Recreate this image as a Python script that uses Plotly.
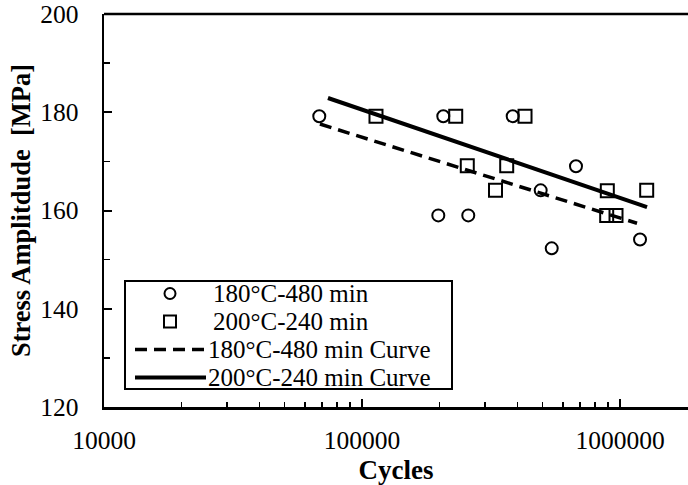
import plotly.graph_objects as go

# ---------------- data ----------------
name_180 = "180°C-480 min"
name_200 = "200°C-240 min"
name_180c = "180°C-480 min Curve"
name_200c = "200°C-240 min Curve"

cycles_180 = [68300, 206600, 383800, 197600, 258200, 492700, 675200, 543700, 1195600]
stress_180 = [179.2, 179.2, 179.2, 159.0, 159.0, 164.1, 169.0, 152.3, 154.1]

cycles_200 = [113300, 230800, 428400, 255900, 363800, 329200, 892900, 1269000, 888000, 965000]
stress_200 = [179.2, 179.2, 179.2, 169.1, 169.1, 164.1, 164.0, 164.1, 159.0, 159.0]

curve_180_x = [68700, 1164000]
curve_180_y = [177.6, 157.4]
curve_200_x = [73800, 1273000]
curve_200_y = [182.9, 160.7]

x_tickvals = [10000, 100000, 1000000]
x_ticktext = ["10000", "100000", "1000000"]
y_tickvals = [120, 140, 160, 180, 200]

# ---------------- style ----------------
FONT = "Liberation Serif"
BLACK = "#000000"
DASH = "12px,7px"

fig = go.Figure()
fig.add_trace(go.Scatter(x=curve_180_x, y=curve_180_y, mode="lines", name=name_180c,
                         line=dict(color=BLACK, width=3.5, dash=DASH), showlegend=False))
fig.add_trace(go.Scatter(x=curve_200_x, y=curve_200_y, mode="lines", name=name_200c,
                         line=dict(color=BLACK, width=4), showlegend=False))
fig.add_trace(go.Scatter(x=cycles_180, y=stress_180, mode="markers", name=name_180,
                         marker=dict(symbol="circle-open", size=12, color=BLACK,
                                     line=dict(width=2, color=BLACK)), showlegend=False))
fig.add_trace(go.Scatter(x=cycles_200, y=stress_200, mode="markers", name=name_200,
                         marker=dict(symbol="square-open", size=13, color=BLACK,
                                     line=dict(width=2, color=BLACK)), showlegend=False))

# ---------------- geometry (body margin removed by post_script) ----------------
W, H = 688, 485
L, R, T, B = 104, 0, 14, 78
pw, ph = W - L - R, H - T - B


def fx(px):
    return (px - L) / pw


def fy(py):
    return (H - B - py) / ph


# manual legend (window pixels)
bx0, bx1, by0, by1 = 125, 452, 281, 389
rows = [293.5, 321.5, 349.5, 377.5]
sym_x = 170
line_x0, line_x1 = 135, 206
text_x = [211, 211, 206, 206]

shapes = [
    dict(type="rect", xref="paper", yref="paper", x0=fx(bx0), x1=fx(bx1), y0=fy(by1), y1=fy(by0),
         line=dict(color=BLACK, width=2), fillcolor="white"),
    dict(type="circle", xref="paper", yref="paper",
         x0=fx(sym_x - 5.5), x1=fx(sym_x + 5.5), y0=fy(rows[0] + 5.5), y1=fy(rows[0] - 5.5),
         line=dict(color=BLACK, width=2)),
    dict(type="rect", xref="paper", yref="paper",
         x0=fx(sym_x - 6), x1=fx(sym_x + 6), y0=fy(rows[1] + 6), y1=fy(rows[1] - 6),
         line=dict(color=BLACK, width=2)),
    dict(type="line", xref="paper", yref="paper",
         x0=fx(line_x0), x1=fx(line_x1), y0=fy(rows[2]), y1=fy(rows[2]),
         line=dict(color=BLACK, width=3.5, dash=DASH)),
    dict(type="line", xref="paper", yref="paper",
         x0=fx(line_x0), x1=fx(line_x1), y0=fy(rows[3]), y1=fy(rows[3]),
         line=dict(color=BLACK, width=4)),
    # top border of the plot area
    dict(type="line", xref="paper", yref="paper", x0=0, x1=1, y0=1, y1=1,
         line=dict(color=BLACK, width=2.5)),
]

legend_names = [name_180, name_200, name_180c, name_200c]
annotations = []
for nm, tx, ry in zip(legend_names, text_x, rows):
    annotations.append(dict(x=fx(tx), y=fy(ry), xref="paper", yref="paper", text=nm,
                            showarrow=False, xanchor="left", yanchor="middle",
                            font=dict(family=FONT, size=25, color=BLACK)))

fig.update_layout(
    width=W, height=H,
    margin=dict(l=L, r=R, t=T, b=B, pad=0, autoexpand=False),
    paper_bgcolor="white", plot_bgcolor="white",
    font=dict(family=FONT, color=BLACK),
    showlegend=False, hovermode=False,
    xaxis=dict(type="log", range=[4, 4 + pw / 258.0],
               tickvals=x_tickvals, ticktext=x_ticktext,
               ticks="inside", ticklen=8, tickwidth=2, tickcolor=BLACK,
               minor=dict(ticks="inside", ticklen=5, tickwidth=1.5, tickcolor=BLACK, dtick="D1", showgrid=False),
               showline=True, linewidth=2.5, linecolor=BLACK, mirror=False,
               showgrid=False, zeroline=False, automargin=False,
               tickfont=dict(family=FONT, size=25.5, color=BLACK),
               ticklabelstandoff=9, ticklabeloverflow="allow",
               title=dict(text="<b>Cycles</b>", font=dict(family=FONT, size=27, color=BLACK), standoff=1)),
    yaxis=dict(range=[120, 200], tickvals=y_tickvals,
               ticks="inside", ticklen=8, tickwidth=2, tickcolor=BLACK,
               minor=dict(ticks="inside", ticklen=6, tickwidth=1.5, tickcolor=BLACK, dtick=10, showgrid=False),
               showline=True, linewidth=2.5, linecolor=BLACK, mirror=False,
               showgrid=False, zeroline=False, automargin=False,
               tickfont=dict(family=FONT, size=25.5, color=BLACK),
               ticklabelstandoff=18, ticklabeloverflow="allow",
               title=dict(text="<b>Stress Amplitdude  [MPa]</b>", font=dict(family=FONT, size=26.5, color=BLACK), standoff=2)),
    annotations=annotations,
    shapes=shapes,
)

fig.write_html("out.html",
               config={"displayModeBar": False, "staticPlot": True},
               post_script="document.body.style.margin='0px';document.body.style.overflow='hidden';")
